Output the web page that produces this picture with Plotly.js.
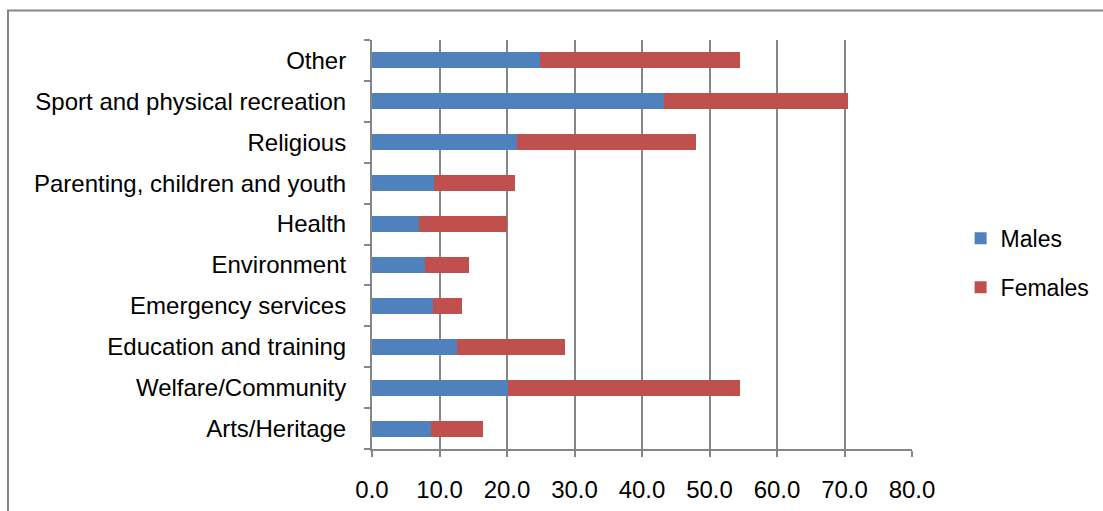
<!DOCTYPE html>
<html>
<head>
<meta charset="utf-8">
<script src="https://cdn.plot.ly/plotly-3.0.1.min.js"></script>
<style>
  html, body { margin: 0; padding: 0; background: #ffffff; }
  #chart { width: 1103px; height: 511px; }
</style>
</head>
<body>
<div id="chart"></div>
<script>
// Categories, bottom to top
const categories = [
  "Arts/Heritage",
  "Welfare/Community",
  "Education and training",
  "Emergency services",
  "Environment",
  "Health",
  "Parenting, children and youth",
  "Religious",
  "Sport and physical recreation",
  "Other"
];
const males   = [8.7, 20.2, 12.6, 9.1, 7.8, 7.0, 9.2, 21.5, 43.2, 24.9];
const females = [7.8, 34.3, 16.0, 4.2, 6.6, 13.0, 12.0, 26.5, 27.3, 29.6];
const seriesNames = ["Males", "Females"];
const xTicks = [0, 10, 20, 30, 40, 50, 60, 70, 80];

const FONT = "Liberation Sans, Arial, sans-serif";
const GRAY = "#868686";
const FS = 24;

const traces = [
  {
    type: "bar", orientation: "h", name: seriesNames[0],
    y: categories, x: males, legendgroup: "m",
    marker: { color: "#4F81BD", line: { color: "#ffffff", width: 0 } },
    hoverinfo: "x+y+name"
  },
  {
    type: "bar", orientation: "h", name: seriesNames[1],
    y: categories, x: females, legendgroup: "f",
    marker: { color: "#C0504D", line: { color: "#ffffff", width: 0 } },
    hoverinfo: "x+y+name"
  }
];

const layout = {
  width: 1103, height: 511,
  margin: { l: 372, r: 191, t: 40, b: 62, pad: 0, autoexpand: false },
  paper_bgcolor: "#ffffff",
  plot_bgcolor: "#ffffff",
  barmode: "stack",
  bargap: 0.61,
  font: { family: FONT, size: FS, color: "#000000" },
  showlegend: true,
  legend: {
    x: 1.090, xanchor: "left",
    y: 0.455, yanchor: "middle",
    traceorder: "grouped",
    tracegroupgap: 16,
    font: { family: FONT, size: 23, color: "#000000" },
    bgcolor: "rgba(0,0,0,0)",
    borderwidth: 0
  },
  xaxis: {
    range: [0, 80],
    tickvals: xTicks,
    tickformat: ".1f",
    automargin: false,
    showgrid: true,
    gridcolor: GRAY,
    gridwidth: 2,
    zeroline: false,
    showline: true,
    linecolor: GRAY,
    linewidth: 2,
    ticks: "outside",
    ticklen: 6,
    tickwidth: 2,
    tickcolor: GRAY,
    ticklabelstandoff: 12,
    tickfont: { family: FONT, size: FS, color: "#000000" },
    fixedrange: true
  },
  yaxis: {
    type: "category",
    categoryorder: "array",
    categoryarray: categories,
    automargin: false,
    showgrid: false,
    zeroline: false,
    showline: true,
    linecolor: GRAY,
    linewidth: 2,
    ticks: "outside",
    tickson: "boundaries",
    ticklen: 6,
    tickwidth: 2,
    tickcolor: GRAY,
    ticklabelstandoff: 19,
    tickfont: { family: FONT, size: FS, color: "#000000" },
    fixedrange: true
  },
  shapes: [
    {
      type: "path", xref: "paper", yref: "paper",
      path: "M -0.6741 -0.2 L -0.6741 1.0721 L 1.4 1.0721",
      line: { color: GRAY, width: 2 },
      fillcolor: "rgba(0,0,0,0)"
    }
  ]
};

Plotly.newPlot("chart", traces, layout, { displayModeBar: false, staticPlot: true });
</script>
</body>
</html>
